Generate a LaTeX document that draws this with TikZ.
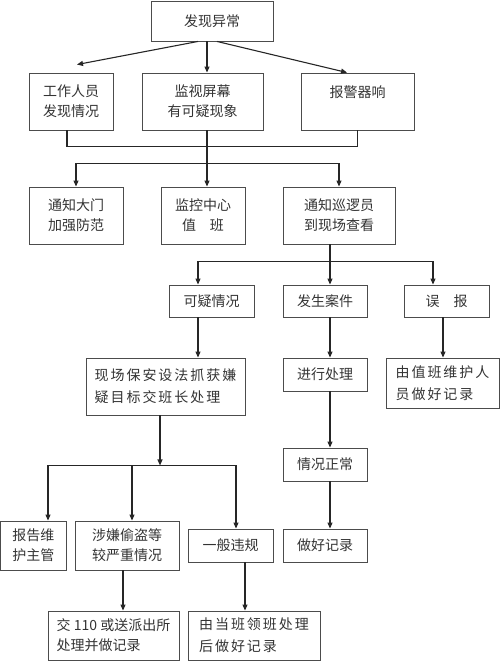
\documentclass[tikz,border=0pt]{standalone}
\usepackage{fontspec}
\setmainfont{Noto Sans CJK SC}
\usetikzlibrary{arrows.meta}
\begin{document}
\begin{tikzpicture}[x=1pt,y=-1pt,
  box/.style={draw=black!70, line width=0.9pt, inner sep=0pt, text=black!80,
    font=\fontsize{14}{20}\selectfont, align=center},
  wide/.style={font=\fontsize{14}{22}\selectfont\addfontfeatures{LetterSpace=14}, align=left},
  conn/.style={draw=black!85, line width=1.1pt},
  arr/.style={conn, -{Triangle[length=6pt,width=5pt]}}]
\useasboundingbox (0,0) rectangle (500,661);

% row 1
\node[box, minimum width=122pt, minimum height=40pt] (n1) at (212,21) {发现异常};
% row 2
\node[box, minimum width=84pt, minimum height=57pt] (n2a) at (71,101.5) {工作人员\\发现情况};
\node[box, minimum width=121pt, minimum height=57pt] (n2b) at (202.5,101.5) {监视屏幕\\有可疑现象};
\node[box, minimum width=113pt, minimum height=57pt] (n2c) at (357.5,101.5) {报警器响\\{}};
% row 3
\node[box, minimum width=94pt, minimum height=57pt] (n3a) at (76,215.5) {通知大门\\加强防范};
\node[box, minimum width=84pt, minimum height=57pt] (n3b) at (203,215.5) {监控中心\\值\quad 班};
\node[box, minimum width=112pt, minimum height=57pt] (n3c) at (339,215.5) {通知巡逻员\\到现场查看};
% row 4
\node[box, minimum width=85pt, minimum height=32pt] (n4a) at (211.5,301) {可疑情况};
\node[box, minimum width=84pt, minimum height=32pt] (n4b) at (325,301) {发生案件};
\node[box, minimum width=85pt, minimum height=32pt] (n4c) at (446.5,301) {误\quad 报};
% row 5
\node[box, wide, minimum width=159pt, minimum height=57pt] (n5a) at (165.5,386.5) {现场保安设法抓获嫌\\疑目标交班长处理};
\node[box, minimum width=84pt, minimum height=33pt] (n5b) at (325,374.5) {进行处理};
\node[box, wide, minimum width=113pt, minimum height=50pt] (n5c) at (442.5,383) {由值班维护人\\员做好记录};
% row 6
\node[box, minimum width=84pt, minimum height=33pt] (n6) at (325,464.5) {情况正常};
% row 7
\node[box, minimum width=66pt, minimum height=49pt] (n7a) at (33.5,545.5) {报告维\\护主管};
\node[box, minimum width=104pt, minimum height=49pt] (n7b) at (127,545.5) {涉嫌偷盗等\\较严重情况};
\node[box, minimum width=85pt, minimum height=33pt] (n7c) at (230.5,545.5) {一般违规};
\node[box, minimum width=84pt, minimum height=33pt] (n7d) at (325,545.5) {做好记录};
% row 8
\node[box, align=left, minimum width=131pt, minimum height=49pt] (n8a) at (113.5,635.5) {交 110 或送派出所\\处理并做记录};
\node[box, wide, minimum width=132pt, minimum height=49pt] (n8b) at (254,635.5) {由当班领班处理\\后做好记录};

% connectors
\draw[arr] ([xshift=-14pt]n1.south) -- ([xshift=6pt,yshift=8pt]n2a.north);
\draw[arr] ([xshift=-5pt]n1.south) -- ([xshift=-5pt]n1.south |- n2b.north);
\draw[arr] ([xshift=5pt]n1.south) -- ([xshift=-10.5pt]n2c.north);

\draw[conn] ([xshift=-4pt]n2a.south) -- ++(0,16) -| (n2c.south);
\path ([xshift=4.5pt]n2b.south) ++(0,33) coordinate (j1);
\draw[conn] ([xshift=4.5pt]n2b.south) -- (j1);
\draw[arr] (j1) -| (n3a.north);
\draw[arr] (j1) -| (n3c.north);
\draw[arr] (j1) -- (j1 |- n3b.north);

\path ([xshift=-9pt]n3c.south) ++(0,17) coordinate (j2);
\draw[arr] ([xshift=-9pt]n3c.south) -- ([xshift=-9pt]n3c.south |- n4b.north);
\draw[arr] (j2) -| ([xshift=-13.5pt]n4a.north);
\draw[arr] (j2) -| ([xshift=-13.5pt]n4c.north);

\draw[arr] ([xshift=-13.5pt]n4a.south) -- ([xshift=-13.5pt]n4a.south |- n5a.north);
\draw[arr] ([xshift=5pt]n4b.south) -- ([xshift=5pt]n4b.south |- n5b.north);
\draw[arr] ([xshift=-3.5pt]n4c.south) -- ([xshift=-3.5pt]n4c.south |- n5c.north);

\path ([xshift=-5.5pt]n5a.south) ++(0,50) coordinate (j3);
\draw[arr] ([xshift=-5.5pt]n5a.south) -- (j3);
\draw[arr] (j3) -| ([xshift=14.5pt]n7a.north);
\draw[arr] (j3) -| ([xshift=5pt]n7b.north);
\draw[arr] (j3) -| ([xshift=5.5pt]n7c.north);

\draw[arr] ([xshift=5pt]n5b.south) -- ([xshift=5pt]n5b.south |- n6.north);
\draw[arr] ([xshift=5pt]n6.south) -- ([xshift=5pt]n6.south |- n7d.north);

\draw[arr] ([xshift=-4pt]n7b.south) -- ([xshift=-4pt]n7b.south |- n8a.north);
\draw[arr] ([xshift=14.5pt]n7c.south) -- ([xshift=14.5pt]n7c.south |- n8b.north);
\end{tikzpicture}
\end{document}
